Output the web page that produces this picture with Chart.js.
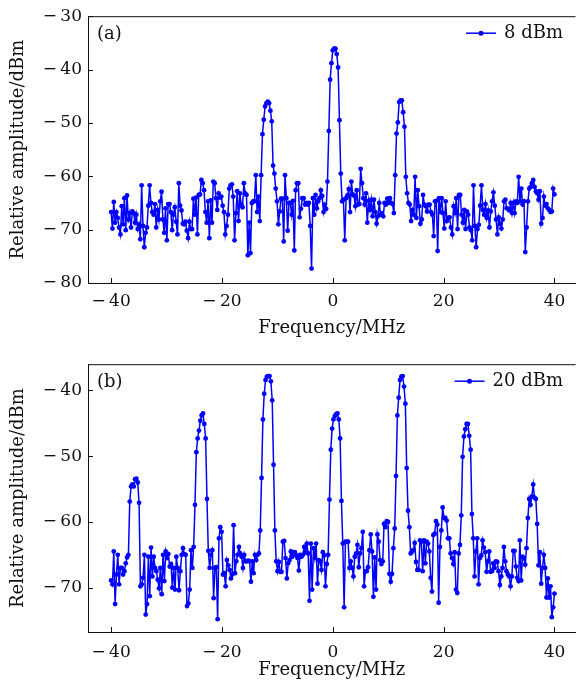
<!DOCTYPE html>
<html><head><meta charset="utf-8">
<script src="https://cdn.jsdelivr.net/npm/chart.js@4.4.1/dist/chart.umd.min.js"></script>
<style>
html,body{margin:0;padding:0;overflow:hidden;background:#fff;width:578px;height:688px;}
canvas{position:absolute;left:0;}
#ca{top:0px}
#cb{top:348px}
</style></head><body>
<canvas id="ca" width="578" height="345"></canvas>
<canvas id="cb" width="578" height="340"></canvas>
<script>
// Panel (a): 8 dBm, relative amplitude (dBm), evenly spaced from -40 to 40 MHz
const amp8dBm = [
-66.7,-69.8,-64.8,-68.7,-66.7,-67.8,-69.6,-70.9,-65.6,-69.0,
-64.1,-70.1,-63.6,-68.1,-66.9,-69.6,-66.6,-66.9,-68.7,-67.2,
-69.9,-69.0,-71.8,-61.7,-69.3,-73.3,-70.6,-69.6,-65.5,-61.7,
-65.0,-66.7,-67.2,-65.2,-69.6,-66.3,-68.1,-64.7,-62.9,-68.1,
-70.6,-66.0,-72.0,-65.2,-65.2,-66.7,-70.1,-67.2,-65.8,-68.5,
-70.9,-61.3,-65.5,-66.4,-68.9,-69.0,-68.5,-70.2,-71.6,-68.5,
-69.9,-69.9,-64.2,-67.2,-64.0,-70.9,-63.5,-63.4,-60.7,-61.3,
-62.6,-66.7,-68.7,-64.7,-71.6,-64.5,-68.7,-61.0,-61.3,-64.1,
-66.3,-63.2,-64.0,-63.8,-65.5,-66.7,-70.9,-69.3,-67.2,-62.3,
-61.7,-61.5,-63.8,-72.0,-66.9,-62.8,-68.4,-63.2,-65.3,-65.8,
-61.3,-63.2,-63.5,-74.8,-68.7,-74.4,-65.0,-64.7,-64.7,-59.8,
-66.7,-63.8,-68.4,-59.8,-52.1,-49.4,-46.9,-46.3,-46.0,-46.3,
-47.7,-49.7,-58.0,-59.5,-62.3,-64.7,-69.0,-66.6,-64.2,-64.2,
-72.2,-59.8,-64.1,-70.2,-65.0,-65.0,-67.2,-64.6,-73.9,-62.6,
-61.3,-61.3,-67.7,-66.1,-64.1,-64.1,-65.3,-65.0,-65.3,-65.0,
-69.3,-77.3,-64.1,-67.2,-63.5,-66.0,-64.7,-64.1,-62.6,-63.7,
-66.7,-65.3,-66.1,-61.0,
-51.5,-41.9,-38.8,-36.4,-36.1,-36.1,-37.1,-39.6,-49.5,-59.5,
-64.7,-64.4,-72.0,-64.1,-63.6,-62.4,-66.7,-61.0,-63.4,-63.6,
-65.6,-62.6,-65.3,-65.2,-58.6,-61.3,-64.1,-65.3,-63.2,-68.7,
-64.6,-66.3,-64.4,-67.5,-64.4,-66.7,-68.9,-67.5,-65.0,-67.2,
-66.9,-67.5,-65.0,-65.3,-64.2,-65.0,-64.1,-65.0,-65.2,-66.9,
-59.8,-52.0,-49.9,-46.1,-45.8,-45.8,-48.0,-50.7,-60.1,-63.2,
-65.0,-65.3,-68.4,-66.3,-67.2,-60.1,-67.8,-62.6,-65.6,-68.9,
-68.1,-63.5,-65.3,-65.6,-66.6,-65.3,-65.3,-66.7,-67.2,-71.2,
-64.7,-64.6,-74.0,-64.1,-66.7,-64.1,-66.9,-69.8,-64.7,-68.4,
-67.8,-67.7,-69.6,-70.9,-65.6,-66.9,-64.1,-69.9,-63.5,-63.5,
-67.2,-68.7,-66.3,-69.9,-66.6,-67.2,-69.6,-70.1,-72.0,-61.7,
-69.3,-73.3,-69.9,-69.1,-65.5,-61.7,-66.3,-67.2,-65.2,-67.8,
-66.4,-69.6,-66.6,-64.7,-63.0,-65.5,-68.1,-70.9,-67.7,-68.9,
-69.8,-68.1,-64.7,-64.4,-66.0,-66.1,-66.4,-65.0,-66.9,-65.0,
-66.9,-64.7,-65.0,-60.1,-64.7,-62.3,-65.3,-64.7,-74.2,-69.6,
-64.7,-62.3,-62.0,-61.3,-60.7,-62.0,-62.8,-63.2,-64.4,-62.8,
-68.9,-67.8,-63.8,-65.5,-65.2,-66.0,-66.3,-66.7,-66.6,-62.3,
-63.4
];

// Panel (b): 20 dBm
const amp20dBm = [
-68.9,-69.5,-64.5,-72.5,-68.0,-65.0,-69.5,-67.0,-67.0,-68.0,
-67.5,-66.3,-65.4,-65.0,-56.9,-54.6,-54.3,-54.6,-53.5,-53.4,
-54.0,-57.1,-69.8,-69.5,-68.5,-65.0,-74.1,-72.5,-65.3,-71.3,
-63.9,-68.3,-65.3,-67.0,-67.5,-68.8,-70.1,-67.0,-71.0,-65.0,
-69.0,-64.5,-65.5,-64.9,-66.8,-66.4,-70.0,-67.0,-70.3,-65.3,
-67.0,-70.4,-67.5,-65.0,-64.0,-64.9,-65.0,-72.8,-72.4,-70.3,
-64.3,-67.0,-63.8,-57.4,-49.4,-47.3,-46.1,-44.6,-43.8,-43.5,
-45.1,-47.3,-56.5,-64.4,-67.0,-65.0,-64.3,-71.6,-67.0,-66.9,
-74.8,-62.5,-60.8,-61.5,-68.0,-67.8,-69.8,-65.8,-66.6,-67.3,
-68.6,-68.0,-60.5,-67.8,-66.0,-65.0,-63.8,-64.8,-65.3,-67.0,
-65.0,-66.0,-66.0,-65.9,-66.0,-69.1,-66.0,-67.8,-65.0,-65.8,
-65.0,-64.8,-61.3,-53.3,-44.4,-40.5,-38.4,-37.9,-37.8,-37.8,
-38.6,-41.5,-51.3,-61.3,-66.0,-67.5,-66.1,-67.6,-67.6,-63.0,
-62.9,-65.5,-68.6,-66.3,-65.8,-64.5,-65.3,-64.6,-64.6,-65.1,
-65.5,-67.4,-65.0,-65.3,-65.0,-63.8,-64.6,-63.3,-64.8,-72.0,
-63.3,-70.3,-64.0,-65.5,-63.3,-69.4,-65.8,-66.0,-67.3,-64.6,
-65.1,-69.8,-66.4,-65.0,-56.6,
-49.0,-45.8,-44.4,-43.9,-43.6,-43.5,-44.4,-47.3,-56.8,-63.3,
-73.0,-63.0,-63.0,-63.0,-67.0,-66.0,-67.0,-68.3,-65.3,-64.8,
-63.5,-66.9,-64.8,-64.0,-61.5,-69.8,-67.5,-67.5,-66.9,-64.3,
-61.9,-64.5,-71.4,-65.4,-70.3,-61.9,-63.0,-65.8,-66.4,-66.0,
-60.3,-60.8,-59.9,-60.0,-67.9,-69.1,-67.9,-64.0,-61.0,-53.0,
-43.8,-41.1,-38.4,-37.9,-37.8,-39.4,-42.0,-51.8,-58.3,-60.8,
-64.8,-64.5,-64.3,-63.2,-66.1,-67.3,-67.3,-62.8,-63.0,-67.5,
-62.8,-66.3,-63.0,-63.3,-64.5,-68.5,-70.6,-62.0,-61.8,-59.9,
-60.4,-72.3,-63.8,-61.3,-57.8,-59.4,-59.4,-59.8,-62.5,-62.5,
-64.8,-65.5,-66.4,-64.6,-70.3,-70.8,-64.8,-63.5,-59.0,-50.1,
-47.0,-45.9,-45.1,-45.1,-46.9,-49.0,-58.8,-62.5,-68.3,-64.5,
-62.5,-69.5,-65.5,-65.1,-62.8,-63.9,-64.6,-67.6,-66.0,-64.5,
-67.6,-67.5,-66.3,-67.0,-66.0,-66.1,-67.5,-69.6,-68.3,-67.0,
-63.8,-66.0,-67.5,-68.0,-68.3,-69.8,-68.3,-64.4,-64.4,-66.8,
-68.5,-69.0,-62.8,-68.9,-65.3,-65.5,-66.5,-64.0,-59.4,-56.5,
-57.4,-56.1,-54.3,-56.3,-56.5,-60.3,-66.6,-64.6,-69.4,-67.0,
-65.0,-67.0,-71.5,-68.6,-71.5,-69.8,-74.5,-73.0,-70.9
];

const freqStart = -40, freqEnd = 40;          // MHz span of the sweep
const xTickValues = [-40, -20, 0, 20, 40];
const yTickValuesA = [-30, -40, -50, -60, -70, -80];
const yTickValuesB = [-40, -50, -60, -70];
const seriesLabelA = '8 dBm', seriesLabelB = '20 dBm';
const panelLabelA = '(a)', panelLabelB = '(b)';
const xTitle = 'Frequency/MHz', yTitle = 'Relative amplitude/dBm';

const FONT = "'DejaVu Serif', serif";
const BLUE = '#0000ff';

function toPoints(vals){
  const step = (freqEnd - freqStart) / (vals.length - 1);
  return vals.map((v,i) => ({x: freqStart + i*step, y: v}));
}
function fmt(v){ return v < 0 ? '\u2212\u2009' + Math.abs(v) : String(v); }

const deco = {
  id: 'deco',
  afterDraw(chart, args, o){
    const {ctx, chartArea: a, scales: {x, y}} = chart;
    ctx.save();
    ctx.strokeStyle = '#111'; ctx.lineWidth = 1;
    ctx.beginPath();
    ctx.moveTo(a.left, a.top + 0.5); ctx.lineTo(a.right, a.top + 0.5);
    x.ticks.forEach(t => { const px = Math.round(x.getPixelForValue(t.value)) + 0.5; ctx.moveTo(px, a.bottom); ctx.lineTo(px, a.bottom - 5); });
    y.ticks.forEach(t => { const py = Math.round(y.getPixelForValue(t.value)) + 0.5; ctx.moveTo(a.left, py); ctx.lineTo(a.left + 5, py); });
    ctx.stroke();
    // panel label
    ctx.fillStyle = '#111';
    ctx.font = '18px ' + FONT;
    ctx.textBaseline = 'middle';
    ctx.textAlign = 'left';
    ctx.fillText(o.panel, 97, a.top + 18.5);
    // legend
    ctx.textAlign = 'right';
    const tx = 563, ty = a.top + 17;
    ctx.fillText(o.label, tx, ty);
    const w = ctx.measureText(o.label).width;
    const x1 = tx - w - 8, x0 = x1 - 30;
    ctx.strokeStyle = BLUE; ctx.lineWidth = 1.5;
    ctx.beginPath(); ctx.moveTo(x0, ty); ctx.lineTo(x1, ty); ctx.stroke();
    ctx.fillStyle = BLUE;
    ctx.beginPath(); ctx.arc((x0 + x1)/2, ty, 2.5, 0, Math.PI*2); ctx.fill();
    ctx.restore();
  }
};

function makeChart(id, vals, yMin, yMax, yTicks, label, panel, xAxisH, xTitlePad, xTickPad){
  return new Chart(document.getElementById(id), {
    type: 'line',
    data: { datasets: [{
      label: label, data: toPoints(vals),
      borderColor: BLUE, backgroundColor: BLUE, borderWidth: 1.5,
      pointRadius: 2.4, pointHoverRadius: 2.4, pointBorderWidth: 0,
      pointBackgroundColor: BLUE, tension: 0, fill: false
    }]},
    options: {
      responsive: false, animation: false, devicePixelRatio: 1,
      layout: { padding: { top: 12, right: 0, left: 0, bottom: 0 } },
      plugins: { legend: { display: false }, tooltip: { enabled: false }, deco: { label: label, panel: panel } },
      scales: {
        x: {
          type: 'linear', min: -44.17, max: 43.81,
          afterFit: s => { s.height = xAxisH; },
          afterBuildTicks: s => { s.ticks = xTickValues.map(v => ({value: v})); },
          grid: { display: false, drawTicks: false },
          border: { display: true, color: '#111', width: 1 },
          ticks: { color: '#111', font: { family: FONT, size: 17 }, padding: xTickPad, maxRotation: 0, callback: v => fmt(v) },
          title: { display: true, text: xTitle, color: '#111', font: { family: FONT, size: 18 }, padding: { top: xTitlePad, bottom: xTitlePad } }
        },
        y: {
          type: 'linear', min: yMin, max: yMax,
          afterFit: s => { s.width = 88; },
          afterBuildTicks: s => { s.ticks = yTicks.map(v => ({value: v})); },
          grid: { display: false, drawTicks: false },
          border: { display: true, color: '#111', width: 1 },
          ticks: { color: '#111', font: { family: FONT, size: 17 }, padding: 6, callback: v => fmt(v) },
          title: { display: true, text: yTitle, color: '#111', font: { family: FONT, size: 18 }, padding: { top: 8, bottom: 8 } }
        }
      }
    },
    plugins: [deco]
  });
}

makeChart('ca', amp8dBm, -80, -30, yTickValuesA, seriesLabelA, panelLabelA, 62, 6, 8);
makeChart('cb', amp20dBm, -76.75, -36, yTickValuesB, seriesLabelB, panelLabelB, 56, 7, 10);
</script>
</body></html>
